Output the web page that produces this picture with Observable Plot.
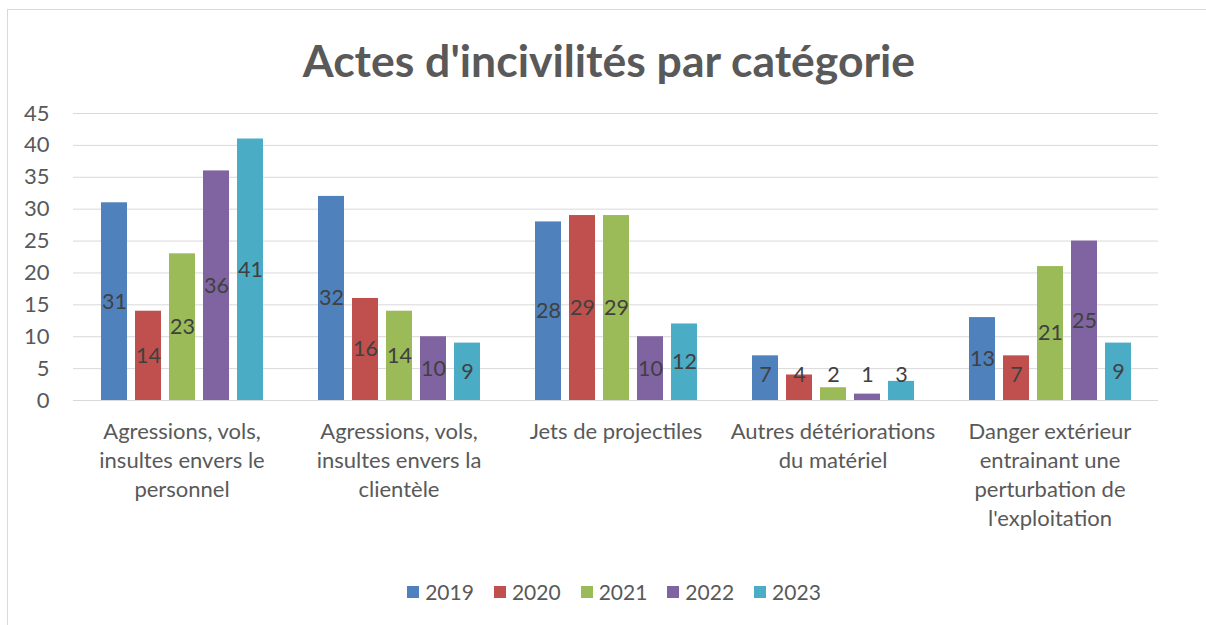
<!DOCTYPE html>
<html><head><meta charset="utf-8">
<script src="https://cdn.jsdelivr.net/npm/d3@7"></script>
<script src="https://cdn.jsdelivr.net/npm/@observablehq/plot@0.6"></script>
<style>
html,body{margin:0;padding:0;background:#fff;}
body{width:1206px;height:625px;overflow:hidden;position:relative;font-family:Lato,"Open Sans",sans-serif;}
#frame{position:absolute;left:7px;top:9px;width:1260px;height:700px;border:1px solid #d9d9d9;box-sizing:border-box;}
#title{position:absolute;left:0;width:1218px;top:34px;text-align:center;font-weight:bold;font-size:44.5px;color:#595959;line-height:52px;}
#chart{position:absolute;left:0;top:95px;}
#legend{position:absolute;left:0;width:1228px;top:579px;display:flex;justify-content:center;gap:20px;font-size:21px;color:#595959;}
.item{display:flex;align-items:center;gap:6px;}
.sw{width:12px;height:12px;display:inline-block;}
</style></head>
<body>
<div id="frame"></div>
<div id="title">Actes d'incivilités par catégorie</div>
<div id="chart"></div>
<div id="legend"></div>
<script>
const categories = [
  "Agressions, vols,\ninsultes envers le\npersonnel",
  "Agressions, vols,\ninsultes envers la\nclientèle",
  "Jets de projectiles",
  "Autres détériorations\ndu matériel",
  "Danger extérieur\nentrainant une\nperturbation de\nl'exploitation"
];
const years = ["2019","2020","2021","2022","2023"];
const v2019 = [31, 32, 28, 7, 13];
const v2020 = [14, 16, 29, 4, 7];
const v2021 = [23, 14, 29, 2, 21];
const v2022 = [36, 10, 10, 1, 25];
const v2023 = [41, 9, 12, 3, 9];
const colors = ["#4F81BD","#C0504D","#9BBB59","#8064A2","#4BACC6"];
const yTicks = [0,5,10,15,20,25,30,35,40,45];

const series = [v2019, v2020, v2021, v2022, v2023];
const data = [];
categories.forEach((c, i) => years.forEach((y, j) => data.push({cat: c, year: y, value: series[j][i]})));

const chart = Plot.plot({
  width: 1206,
  height: 450,
  marginTop: 18,
  marginBottom: 145,
  marginLeft: 71,
  marginRight: 47,
  style: {fontFamily: "Lato, 'Open Sans', sans-serif", color: "#595959", background: "transparent"},
  fx: {domain: categories, padding: 0, label: null},
  x: {domain: years, paddingInner: 0.24, paddingOuter: 0.8, axis: null},
  y: {domain: [0, 45], label: null},
  color: {domain: years, range: colors},
  marks: [
    Plot.gridY(yTicks, {stroke: "#d9d9d9", strokeOpacity: 1, strokeWidth: 1}),
    Plot.barY(data, {fx: "cat", x: "year", y: "value", fill: "year"}),
    Plot.text(data, {fx: "cat", x: "year", y: d => Math.max(d.value / 2, 4), text: "value", fill: "#404040", fontSize: 21.5}),
    Plot.axisY(yTicks, {tickSize: 0, tickPadding: 24, fontSize: 22, fill: "#595959"}),
    Plot.axisFx({anchor: "bottom", tickSize: 0, tickPadding: 18, fontSize: 22, lineHeight: 1.32, fill: "#595959", label: null, textAnchor: "middle"})
  ]
});
document.getElementById("chart").appendChild(chart);

const legend = document.getElementById("legend");
years.forEach((y, i) => {
  const it = document.createElement("div");
  it.className = "item";
  it.innerHTML = `<span class="sw" style="background:${colors[i]}"></span><span>${y}</span>`;
  legend.appendChild(it);
});
</script>
</body></html>
